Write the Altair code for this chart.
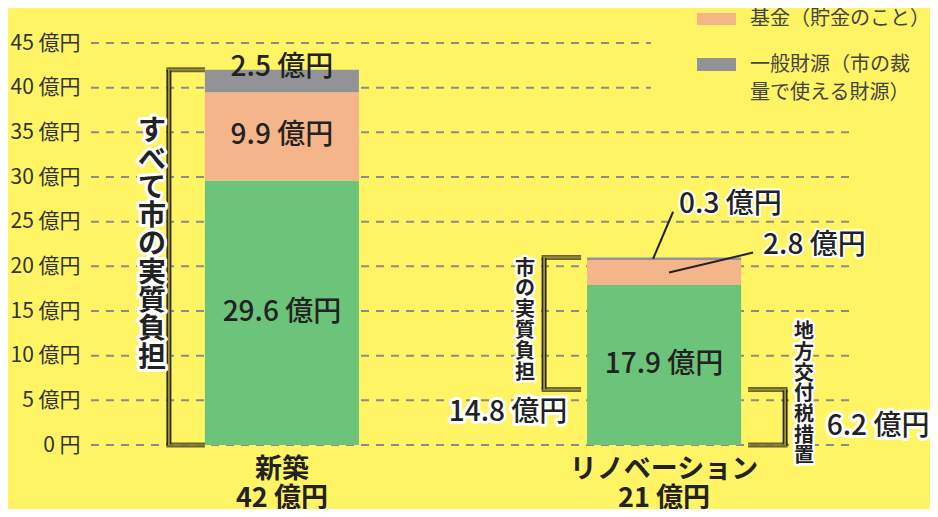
import altair as alt
import pandas as pd

# ---------------- data ----------------
categories = ["新築", "リノベーション"]
series_names = ["その他の財源", "基金（貯金のこと）", "一般財源（市の裁量で使える財源）"]
series_colors = ["#6CC37A", "#F5B58B", "#939397"]
green_values = [29.6, 17.9]
fund_values = [9.9, 2.8]
general_values = [2.5, 0.3]
koufuzei_value = 6.2          # 地方交付税措置（リノベーション）
y_ticks = [0, 5, 10, 15, 20, 25, 30, 35, 40, 45]
unit = " 億円"
bracket_names = ["すべて市の実質負担", "市の実質負担", "地方交付税措置"]

# ---------------- layout / style ----------------
W, H = 764, 402
FONT = "Noto Sans CJK JP"
BG = "#FFF463"
INK = "#222222"
GRID = "#8C8C8C"
DARK = "#2E2A14"
OLIVE = "#A89F45"

rows = []
totals = []
for i, cat in enumerate(categories):
    base = 0.0
    for s, vals in zip(series_names, [green_values, fund_values, general_values]):
        v = vals[i]
        rows.append({"cat": cat, "series": s, "value": v, "y0": round(base, 2),
                     "y1": round(base + v, 2), "mid": round(base + v / 2, 3),
                     "label": f"{v}{unit}"})
        base += v
    totals.append(round(base, 1))
seg = pd.DataFrame(rows)

brackets = pd.DataFrame({
    "cat": ["新築", "リノベーション", "リノベーション"],
    "lo": [0.0, koufuzei_value, 0.0],
    "hi": [totals[0], totals[1], koufuzei_value],
    "name": bracket_names,
    "amount": ["", f"{totals[1] - koufuzei_value:.1f}{unit}", f"{koufuzei_value}{unit}"],
})
brackets["center"] = (brackets["lo"] + brackets["hi"]) / 2

cat_labels = pd.DataFrame({"cat": categories,
                           "lab": [f"{c}\n{t:.0f}{unit}" for c, t in zip(categories, totals)]})

xscale = alt.Scale(domain=categories, paddingInner=0.597, paddingOuter=0.298)
yscale = alt.Scale(domain=[0, 45], nice=False, zero=True)
yaxis = alt.Axis(values=y_ticks, title=None,
                 labelExpr="datum.value == 0 ? '0 円' : datum.value + ' 億円'",
                 labelFont=FONT, labelFontSize=21, labelColor="#333333",
                 labelPadding=11, ticks=False, domain=False, grid=False)


def X():
    return alt.X("cat:N", scale=xscale, sort=categories, axis=None)


def Y(f):
    return alt.Y(f"{f}:Q", scale=yscale, axis=yaxis)


def text_layers(make, enc, halo=False, hw=5, **props):
    out = []
    if halo:
        out.append(make().mark_text(stroke="white", strokeWidth=hw, strokeJoin="round",
                                    fill="white", font=FONT, **props).encode(**enc))
    out.append(make().mark_text(fill=INK, font=FONT, **props).encode(**enc))
    return out


layers = []

# gridlines
layers.append(alt.Chart(pd.DataFrame({"v": [t for t in y_ticks if t <= 35]}))
              .mark_rule(color=GRID, strokeWidth=2, strokeDash=[8, 7])
              .encode(y=Y("v"), x=alt.value(0), x2=alt.value(W)))
layers.append(alt.Chart(pd.DataFrame({"v": [t for t in y_ticks if t > 35]}))
              .mark_rule(color=GRID, strokeWidth=2, strokeDash=[8, 7])
              .encode(y=Y("v"), x=alt.value(0), x2=alt.value(560)))

# bars
layers.append(alt.Chart(seg).mark_bar().encode(
    x=X(), y=Y("y0"), y2=alt.Y2("y1"),
    color=alt.Color("series:N", scale=alt.Scale(domain=series_names, range=series_colors),
                    legend=None)))

# in-bar labels
inbar = seg[((seg["cat"] == categories[0]) & (seg["series"] != series_names[2])) |
            ((seg["cat"] == categories[1]) & (seg["series"] == series_names[0]))]
layers += text_layers(lambda: alt.Chart(inbar), dict(x=X(), y=Y("mid"), text="label:N"),
                      fontSize=28, fontWeight=500, align="center", baseline="middle")
top_new = seg[(seg["cat"] == categories[0]) & (seg["series"] == series_names[2])]
layers += text_layers(lambda: alt.Chart(top_new), dict(x=X(), y=Y("y1"), text="label:N"),
                      fontSize=28, fontWeight=500, align="center", baseline="middle", yOffset=-2)

# leader lines + labels for small renovation segments
reno_gen = seg[(seg["cat"] == categories[1]) & (seg["series"] == series_names[2])]
reno_fund = seg[(seg["cat"] == categories[1]) & (seg["series"] == series_names[1])]
layers.append(alt.Chart(reno_gen).mark_rule(color=INK, strokeWidth=2, xOffset=-11, x2Offset=9,
                                            y2Offset=-47)
              .encode(x=X(), x2=alt.X2("cat"), y=Y("mid"), y2=alt.Y2("mid")))
layers.append(alt.Chart(reno_fund).mark_rule(color=INK, strokeWidth=2, xOffset=5, x2Offset=89,
                                             y2Offset=-20)
              .encode(x=X(), x2=alt.X2("cat"), y=Y("mid"), y2=alt.Y2("mid")))
layers += text_layers(lambda: alt.Chart(reno_gen), dict(x=X(), y=Y("y1"), text="label:N"), halo=True,
                      hw=4, fontSize=28, fontWeight=500, align="left", baseline="middle",
                      xOffset=15, yOffset=-52)
layers += text_layers(lambda: alt.Chart(reno_fund), dict(x=X(), y=Y("y1"), text="label:N"), halo=True,
                      hw=4, fontSize=28, fontWeight=500, align="left", baseline="middle",
                      xOffset=99, yOffset=-14)


# brackets
def bracket(df, vx, direction, length):
    out = []
    for color, w in [(DARK, 5), (OLIVE, 1.6)]:
        out.append(alt.Chart(df).mark_rule(color=color, strokeWidth=w, xOffset=vx)
                   .encode(x=X(), y=Y("lo"), y2=alt.Y2("hi")))
        L = length + w / 2
        c = vx + direction * (length - w / 2) / 2
        for f in ["lo", "hi"]:
            out.append(alt.Chart(df).mark_tick(color=color, thickness=w, size=L,
                                               orient="horizontal", xOffset=c)
                       .encode(x=X(), y=Y(f)))
    return out


b_all = brackets.iloc[[0]]
b_city = brackets.iloc[[1]]
b_kofu = brackets.iloc[[2]]
layers += bracket(b_all, -113, 1, 36)
layers += bracket(b_city, -120, 1, 37)
layers += bracket(b_kofu, 121, -1, 37)


# vertical bracket texts (one character per line; first line sits at the anchor)
def vt(df):
    return lambda: alt.Chart(df).transform_calculate(lines="split(datum.name, '')")


def first_line_offset(text, lh, center_off):
    return center_off - (len(text) - 1) / 2 * lh


layers += text_layers(vt(b_all), dict(x=X(), y=Y("center"), text="lines:N"), halo=True, hw=6,
                      fontSize=28, fontWeight="bold", lineHeight=28.3, align="center",
                      baseline="middle", xOffset=-130,
                      yOffset=first_line_offset(bracket_names[0], 28.3, -12))
layers += text_layers(vt(b_city), dict(x=X(), y=Y("center"), text="lines:N"), halo=True, hw=5,
                      fontSize=20, fontWeight="bold", lineHeight=20.8, align="center",
                      baseline="middle", xOffset=-139,
                      yOffset=first_line_offset(bracket_names[1], 20.8, -3))
layers += text_layers(vt(b_kofu), dict(x=X(), y=Y("center"), text="lines:N"), halo=True, hw=5,
                      fontSize=20, fontWeight="bold", lineHeight=20.7, align="center",
                      baseline="middle", xOffset=140,
                      yOffset=first_line_offset(bracket_names[2], 20.7, -23))

# bracket amounts
layers += text_layers(lambda: alt.Chart(b_city), dict(x=X(), y=Y("lo"), text="amount:N"), halo=True,
                      hw=6, fontSize=28, fontWeight=500, align="center", baseline="middle",
                      xOffset=-156, yOffset=23)
layers += text_layers(lambda: alt.Chart(b_kofu), dict(x=X(), y=Y("center"), text="amount:N"),
                      halo=True, hw=6, fontSize=28, fontWeight=500, align="center",
                      baseline="middle", xOffset=214, yOffset=10)

# category labels
layers += text_layers(lambda: alt.Chart(cat_labels).transform_calculate(lines="split(datum.lab, '\\n')"),
                      dict(x=X(), y=alt.value(H + 25), text="lines:N"),
                      fontSize=27, fontWeight="bold", lineHeight=29, align="center",
                      baseline="middle")

# legend (manual)
leg1 = pd.DataFrame({"t": [series_names[1]]})
leg2 = pd.DataFrame({"t": [series_names[2]]})
layers.append(alt.Chart(leg1).mark_rect(color=series_colors[1]).encode(
    x=alt.value(606), x2=alt.value(645), y=alt.value(-30), y2=alt.value(-18)))
layers.append(alt.Chart(leg2).mark_rect(color=series_colors[2]).encode(
    x=alt.value(606), x2=alt.value(645), y=alt.value(15), y2=alt.value(28)))
layers.append(alt.Chart(leg1).mark_text(font=FONT, fontSize=20, color="#444444", align="left",
                                        baseline="middle")
              .encode(x=alt.value(659), y=alt.value(-24), text="t:N"))
layers.append(alt.Chart(leg2)
              .transform_calculate(lines="[substring(datum.t, 0, 8), substring(datum.t, 8)]")
              .mark_text(font=FONT, fontSize=20, color="#444444", align="left",
                         baseline="middle", lineHeight=27.5)
              .encode(x=alt.value(659), y=alt.value(22), text="lines:N"))

chart = (alt.layer(*layers)
         .properties(width=W, height=H,
                     autosize=alt.AutoSizeParams(type="none"),
                     padding={"left": 83, "top": 35, "right": 75, "bottom": 64})
         .configure(background=BG, font=FONT)
         .configure_view(stroke=None))

chart.save("out.html", embed_options={"renderer": "svg", "actions": False})
